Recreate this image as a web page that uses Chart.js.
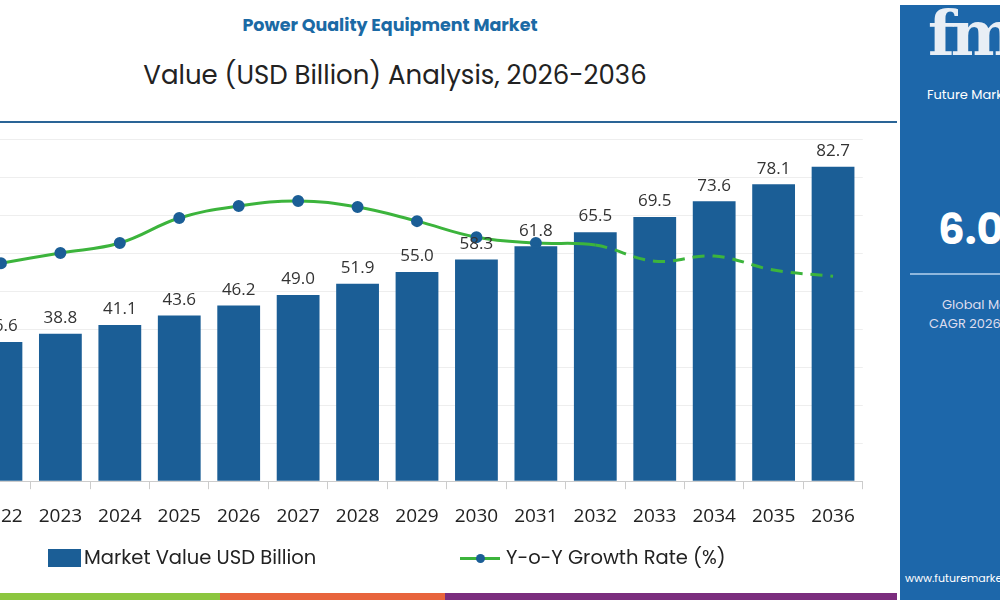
<!DOCTYPE html>
<html><head><meta charset="utf-8">
<script src="https://cdn.jsdelivr.net/npm/chart.js@4/dist/chart.umd.min.js"></script>
<style>
body{margin:0;width:1000px;height:600px;overflow:hidden;background:#fff;font-family:Poppins,"Open Sans",sans-serif;position:relative}
#t1{position:absolute;top:12px;left:0;width:780px;text-align:center;color:#1b6aa5;font-weight:bold;font-size:17.5px}
#t2{position:absolute;top:56px;left:0;width:790px;text-align:center;color:#222;font-size:26px}
#sep{position:absolute;top:121px;left:0;width:897px;height:2px;background:#2a6496}
#wrap{position:absolute;left:-37px;top:100px;width:908px;height:444px}
#panel{position:absolute;left:900px;top:5px;width:100px;height:595px;background:#1d67aa;overflow:hidden;color:#fff}
.leg{position:absolute;top:543px;font-size:19.5px;color:#222;white-space:nowrap}
</style></head><body>
<div id="t1">Power Quality Equipment Market</div>
<div id="t2">Value (USD Billion) Analysis, 2026-2036</div>
<div id="sep"></div>
<div id="wrap"><canvas id="c"></canvas></div>
<div id="panel">
 <div style="position:absolute;left:28px;top:-8px;font-size:62px;font-weight:bold;font-family:'DejaVu Serif',serif;color:#e8eef5;letter-spacing:-4px">fm</div>
 <div style="position:absolute;left:27px;top:80px;font-size:13px;white-space:nowrap">Future Market Insights</div>
 <div style="position:absolute;left:38px;top:193px;font-size:42px;font-weight:bold;white-space:nowrap">6.0%</div>
 <div style="position:absolute;left:10px;top:268px;width:100px;height:2px;background:#8fb7dd"></div>
 <div style="position:absolute;left:42px;top:290px;font-size:13px;white-space:nowrap;color:#dde">Global Market</div>
 <div style="position:absolute;left:29px;top:309px;font-size:13px;white-space:nowrap;color:#dde">CAGR 2026-2036</div>
 <div style="position:absolute;left:5px;top:565px;font-size:11px;white-space:nowrap">www.futuremarketinsights.com</div>
</div>
<div class="leg" style="left:48px"><span style="display:inline-block;width:33px;height:18px;background:#1b5e96;vertical-align:-3px;margin-right:3px"></span>Market Value USD Billion</div>
<div class="leg" style="left:460px"><span style="display:inline-block;position:relative;width:40px;height:18px;vertical-align:-3px;margin-right:6px"><span style="position:absolute;left:0;top:8px;width:40px;height:3px;background:#3cb43c"></span><span style="position:absolute;left:16px;top:5px;width:9px;height:9px;border-radius:50%;background:#1b5e96"></span></span>Y-o-Y Growth Rate (%)</div>
<div style="position:absolute;top:593px;left:0;width:220px;height:7px;background:#8cc63f"></div>
<div style="position:absolute;top:593px;left:220px;width:225px;height:7px;background:#e8643c"></div>
<div style="position:absolute;top:593px;left:445px;width:452px;height:7px;background:#7b2d7e"></div>
<script>
const years=['2022','2023','2024','2025','2026','2027','2028','2029','2030','2031','2032','2033','2034','2035','2036'];
const marketValue=[36.6,38.8,41.1,43.6,46.2,49.0,51.9,55.0,58.3,61.8,65.5,69.5,73.6,78.1,82.7];
const growthRate=[6.37,6.67,6.96,7.69,8.04,8.19,8.01,7.60,7.13,6.96,6.90,6.43,6.58,6.17,5.99];
const pointShown=[1,1,1,1,1,1,1,1,1,1,0,0,0,0,0];
const labelPlugin={id:'lbl',afterDatasetsDraw(ch){const ctx=ch.ctx;const m=ch.getDatasetMeta(1);ctx.save();ctx.font='17px "Open Sans",sans-serif';ctx.fillStyle='#333';ctx.textAlign='center';ctx.textBaseline='bottom';
m.data.forEach((b,i)=>ctx.fillText(marketValue[i].toFixed(1),b.x,b.y-7));ctx.restore();}};
new Chart(document.getElementById('c'),{
 data:{labels:years,datasets:[
  {type:'line',data:growthRate,yAxisID:'y2',borderColor:'#3cb43c',borderWidth:3,tension:0.4,
   pointRadius:years.map((_,i)=>pointShown[i]?4.5:0),pointBackgroundColor:'#1b5e96',pointBorderColor:'#1b5e96',
   segment:{borderDash:c=>c.p0DataIndex>=10?[12,8]:undefined},order:0},
  {type:'bar',data:marketValue,backgroundColor:'#1b5e96',categoryPercentage:0.72,barPercentage:1,order:1}
 ]},
 options:{responsive:true,maintainAspectRatio:false,animation:false,
  layout:{padding:{top:39,left:0,right:0,bottom:0}},
  plugins:{legend:{display:false},tooltip:{enabled:false}},
  scales:{
   x:{grid:{offset:true,drawOnChartArea:false,tickLength:8,color:'#ccc'},border:{color:'#ccc'},ticks:{color:'#222',font:{size:19,family:'"Open Sans",sans-serif'},padding:16}},
   y:{min:0,max:90,ticks:{display:false,stepSize:10},grid:{color:'#eee',drawTicks:false},border:{display:false}},
   y2:{display:false,min:0,max:10}
  }},
 plugins:[labelPlugin]
});
</script></body></html>
